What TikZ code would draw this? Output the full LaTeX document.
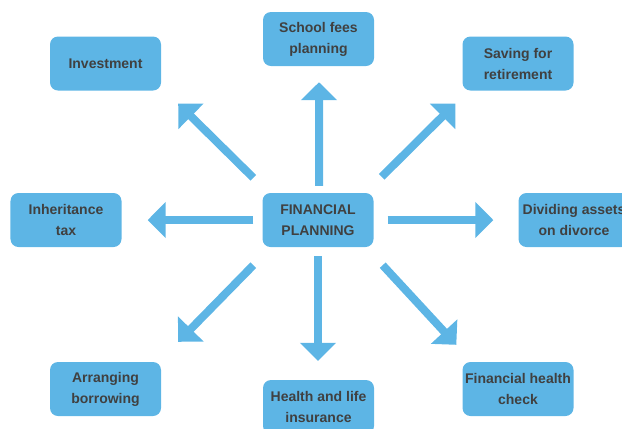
\documentclass[tikz,border=0pt]{standalone}
\usepackage{fontspec}
\setmainfont{Liberation Sans}
\usetikzlibrary{arrows.meta}
\definecolor{boxblue}{HTML}{5DB5E5}
\definecolor{txtgray}{HTML}{404040}
\tikzset{
  box/.style={fill=boxblue, draw=none, rounded corners=8bp, minimum width=111bp, minimum height=54bp,
    inner sep=0pt, align=center, text=txtgray, font=\fontsize{14bp}{21bp}\selectfont\bfseries},
  arr/.style={draw=boxblue, line width=8bp, -{Triangle[width=35bp,length=18bp]}}
}
\begin{document}
\begin{tikzpicture}[x=1bp,y=-1bp]
\useasboundingbox (0,0) rectangle (622,428);
\node[box] (fp) at (318,220) {FINANCIAL\\PLANNING};
\node[box] (inv) at (105.5,63.5) {Investment};
\node[box] (school) at (318.5,39) {School fees\\planning};
\node[box] (saving) at (518,63.5) {Saving for\\retirement};
\node[box] (inh) at (66,220) {Inheritance\\tax};
\node[box] (div) at (574,220) {Dividing assets\\on divorce};
\node[box] (arr) at (105.5,389) {Arranging\\borrowing};
\node[box] (health) at (318.5,407) {Health and life\\insurance};
\node[box] (fhc) at (518,389) {Financial health\\check};
\draw[arr, shorten <=7bp, shorten >=16bp] ([xshift=1bp]fp.north) -- ([xshift=0.5bp]school.south);
\draw[arr, shorten <=9bp, shorten >=19bp] (fp.south) -- ([xshift=-0.5bp]health.north);
\draw[arr, shorten <=9bp, shorten >=26bp] (fp.west) -- (inh.east);
\draw[arr, shorten <=14bp, shorten >=25bp] (fp.east) -- (div.west);
\draw[arr] ([shift={(-9,-15)}]fp.north west) -- ([shift={(17,13)}]inv.south east);
\draw[arr] ([shift={(8,-16)}]fp.north east) -- ([shift={(-7,13)}]saving.south west);
\draw[arr] ([shift={(-9,18)}]fp.south west) -- ([shift={(17,-20)}]arr.north east);
\draw[arr] ([shift={(9,18)}]fp.south east) -- ([shift={(-6,-17)}]fhc.north west);
\end{tikzpicture}
\end{document}
